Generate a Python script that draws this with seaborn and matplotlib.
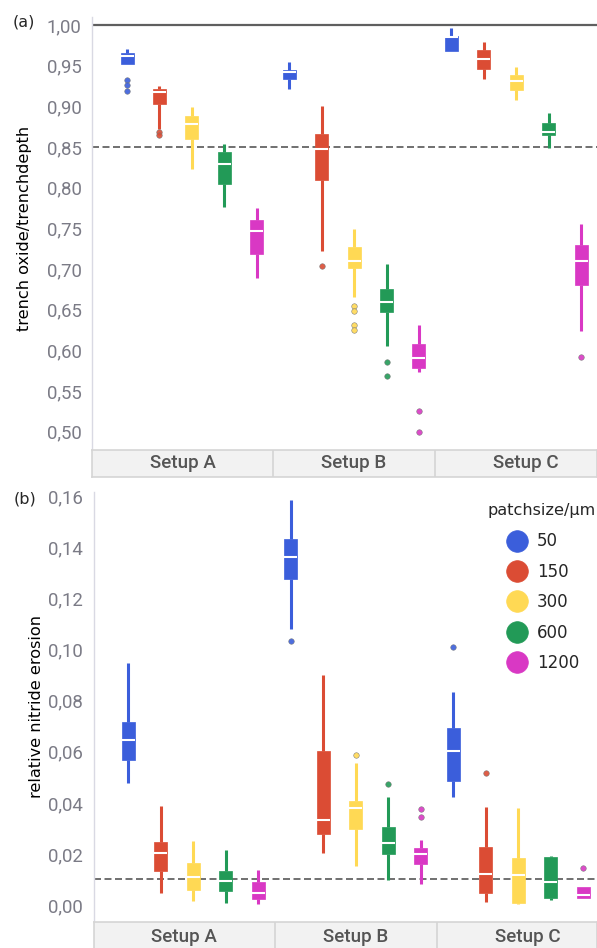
import numpy as np
import pandas as pd
import seaborn as sns
import matplotlib.pyplot as plt
from matplotlib.lines import Line2D
from matplotlib.ticker import FuncFormatter

setups = ['Setup A', 'Setup B', 'Setup C']
patchsizes = [50, 150, 300, 600, 1200]
colors = ['#3b5edb', '#db4c34', '#ffd954', '#229a57', '#d938c4']

# five-number summaries, order: Setup A (50..1200), Setup B (50..1200), Setup C (50..1200)
oxide_lo = [0.9520, 0.8720, 0.8226, 0.7766, 0.6893,
            0.9217, 0.7225, 0.6652, 0.6054, 0.5738,
            0.9684, 0.9332, 0.9078, 0.8490, 0.6242]
oxide_q1 = [0.9520, 0.9030, 0.8595, 0.8050, 0.7185,
            0.9336, 0.8090, 0.7009, 0.6475, 0.5780,
            0.9684, 0.9459, 0.9200, 0.8648, 0.6804]
oxide_med = [0.9623, 0.9180, 0.8780, 0.8290, 0.7470,
             0.9418, 0.8480, 0.7102, 0.6595, 0.5910,
             0.9849, 0.9582, 0.9312, 0.8680, 0.7102]
oxide_q3 = [0.9652, 0.9210, 0.8880, 0.8443, 0.7600,
            0.9447, 0.8660, 0.7267, 0.6754, 0.6082,
            0.9865, 0.9693, 0.9385, 0.8791, 0.7295]
oxide_hi = [0.9705, 0.9250, 0.8990, 0.8537, 0.7746,
            0.9550, 0.9004, 0.7496, 0.7062, 0.6312,
            0.9960, 0.9795, 0.9488, 0.8914, 0.7559]
oxide_out = {('Setup A', 50): [0.9323, 0.9258, 0.9192],
             ('Setup A', 150): [0.8690, 0.8650],
             ('Setup B', 150): [0.7037],
             ('Setup B', 300): [0.6545, 0.6488, 0.6312, 0.6250],
             ('Setup B', 600): [0.5853, 0.5689],
             ('Setup B', 1200): [0.5258, 0.4993],
             ('Setup C', 1200): [0.5915]}

nitride_lo = [0.0479, 0.0046, 0.0017, 0.0007, 0.0003,
              0.1081, 0.0205, 0.0154, 0.0098, 0.0081,
              0.0422, 0.0013, 0.0004, 0.0020, 0.0026]
nitride_q1 = [0.0568, 0.0134, 0.0059, 0.0055, 0.0024,
              0.1277, 0.0277, 0.0298, 0.0200, 0.0159,
              0.0487, 0.0046, 0.0009, 0.0026, 0.0029]
nitride_med = [0.0647, 0.0203, 0.0111, 0.0095, 0.0048,
               0.1365, 0.0333, 0.0379, 0.0242, 0.0200,
               0.0605, 0.0120, 0.0118, 0.0091, 0.0039]
nitride_q3 = [0.0718, 0.0246, 0.0166, 0.0133, 0.0091,
              0.1433, 0.0603, 0.0409, 0.0307, 0.0222,
              0.0692, 0.0226, 0.0183, 0.0187, 0.0072]
nitride_hi = [0.0950, 0.0388, 0.0251, 0.0216, 0.0137,
              0.1587, 0.0901, 0.0555, 0.0424, 0.0255,
              0.0836, 0.0385, 0.0379, 0.0193, 0.0072]
nitride_out = {('Setup B', 50): [0.1034],
               ('Setup B', 300): [0.0586],
               ('Setup B', 600): [0.0473],
               ('Setup B', 1200): [0.0376, 0.0346],
               ('Setup C', 50): [0.1012],
               ('Setup C', 150): [0.0519],
               ('Setup C', 1200): [0.0144]}

slots = [f'{s} {p}' for s in setups for p in patchsizes]


def box_frame(lo, q1, med, q3, hi):
    rows = []
    k = 0
    for s in setups:
        for p in patchsizes:
            for v in (lo[k], q1[k], med[k], q3[k], hi[k]):
                rows.append((f'{s} {p}', p, v))
            k += 1
    return pd.DataFrame(rows, columns=['slot', 'patch', 'value'])


def outlier_frame(out):
    rows = [(f'{s} {p}', p, v) for (s, p), vals in out.items() for v in vals]
    return pd.DataFrame(rows, columns=['slot', 'patch', 'value'])


def comma(v, pos):
    return f'{v:.2f}'.replace('.', ',')


def draw_panel(ax, hdr, boxes, outs, xlim, ylim, yticks, ylabel):
    for p, c in zip(patchsizes, colors):
        sns.boxplot(data=boxes[boxes['patch'] == p], x='slot', y='value', order=slots,
                    color=c, linecolor=c, saturation=1, width=0.4, whis=(0, 100),
                    showcaps=False, showfliers=False,
                    boxprops={'linewidth': 0.5},
                    whiskerprops={'linewidth': 2.2},
                    medianprops={'color': 'white', 'linewidth': 1.5}, ax=ax)
        sub = outs[outs['patch'] == p]
        if len(sub):
            sns.stripplot(data=sub, x='slot', y='value', order=slots, color=c,
                          jitter=False, size=4, linewidth=0.4, edgecolor='#777777',
                          alpha=0.9, ax=ax, zorder=4)

    ax.set_xlim(xlim)
    ax.set_ylim(ylim)
    ax.set_xticks([])
    ax.set_xlabel('')
    ax.set_yticks(yticks)
    ax.yaxis.set_major_formatter(FuncFormatter(comma))
    ax.tick_params(axis='y', length=3.6, width=1, color='#d4d4dc', pad=3.8,
                   labelsize=13.4, labelcolor='#7b7b86', labelfontfamily='Roboto')
    ax.set_ylabel(ylabel, fontsize=11.6, color='black')
    for side in ['top', 'right', 'bottom']:
        ax.spines[side].set_visible(False)
    ax.spines['left'].set_color('#d9d9e3')
    ax.spines['left'].set_linewidth(1)

    # setup header band
    edges = [xlim[0], 4.5, 9.5, 9.5 + (4.5 - xlim[0])]
    hdr.set_xlim(xlim)
    hdr.set_ylim(0, 1)
    hdr.set_facecolor('#f2f2f2')
    hdr.set_xticks([])
    hdr.set_yticks([])
    for sp in hdr.spines.values():
        sp.set_color('#d5d5d5')
        sp.set_linewidth(1.2)
    for e in edges[1:3]:
        hdr.axvline(e, color='#d5d5d5', lw=1.2)
    for i, s in enumerate(setups):
        hdr.text((edges[i] + edges[i + 1]) / 2, 0.5, s, ha='center', va='center',
                 fontsize=13.5, color='#555555', family='Roboto', fontweight='medium')


sns.set_style('white')
plt.rcParams['font.family'] = ['DejaVu Sans']

W, H = 597, 948
fig = plt.figure(figsize=(W / 100, H / 100), dpi=100)

ax_a = fig.add_axes([92 / W, 1 - 450 / H, (W - 92) / W, 433 / H])
hdr_a = fig.add_axes([92 / W, 1 - 477 / H, (W - 92) / W, 27 / H])
ax_b = fig.add_axes([93.5 / W, 1 - 922 / H, (W - 93.5) / W, 430 / H])
hdr_b = fig.add_axes([93.5 / W, -5 / H, (W - 93.5) / W, 31 / H])

draw_panel(ax_a, hdr_a,
           box_frame(oxide_lo, oxide_q1, oxide_med, oxide_q3, oxide_hi),
           outlier_frame(oxide_out),
           (-1.08, 14.49), (0.4775, 1.0098), np.arange(0.50, 1.001, 0.05),
           'trench oxide/trenchdepth')
ax_a.axhline(1.0, color='#5f5f5f', lw=1.6, zorder=0.5)
ax_a.axhline(0.85, color='#707070', lw=1.4, ls=(0, (3.6, 1.8)), zorder=0.5)
ax_a.yaxis.set_label_coords(-(92 - 32.5) / (W - 92), (450 - 228.5) / 433)

draw_panel(ax_b, hdr_b,
           box_frame(nitride_lo, nitride_q1, nitride_med, nitride_q3, nitride_hi),
           outlier_frame(nitride_out),
           (-1.07, 14.42), (-0.00666, 0.1618), np.arange(0.0, 0.1601, 0.02),
           'relative nitride erosion')
ax_b.axhline(0.01, color='#707070', lw=1.4, ls=(0, (3.6, 1.8)), zorder=0.5)
ax_b.yaxis.set_label_coords(-(93.5 - 43.6) / (W - 93.5), 0.5)

handles = [Line2D([], [], ls='none', marker='o', markersize=15.6, markerfacecolor=c,
                  markeredgecolor=c, markeredgewidth=0.5) for c in colors]
ax_b.legend(handles, [str(p) for p in patchsizes], loc='upper left',
            bbox_to_anchor=(504 / W, 1 - 532.5 / H), bbox_transform=fig.transFigure,
            frameon=False, fontsize=12, handlelength=1.6, handletextpad=0.38,
            labelspacing=0.74, borderpad=0, borderaxespad=0)
fig.text(488 / W, 1 - 510 / H, 'patchsize/µm', ha='left', va='center', fontsize=11.6)

fig.text(12.7 / W, 1 - 22 / H, '(a)', ha='left', va='center', fontsize=11.5)
fig.text(13.3 / W, 1 - 499 / H, '(b)', ha='left', va='center', fontsize=11.5)

fig.savefig('out.png', dpi=100)
